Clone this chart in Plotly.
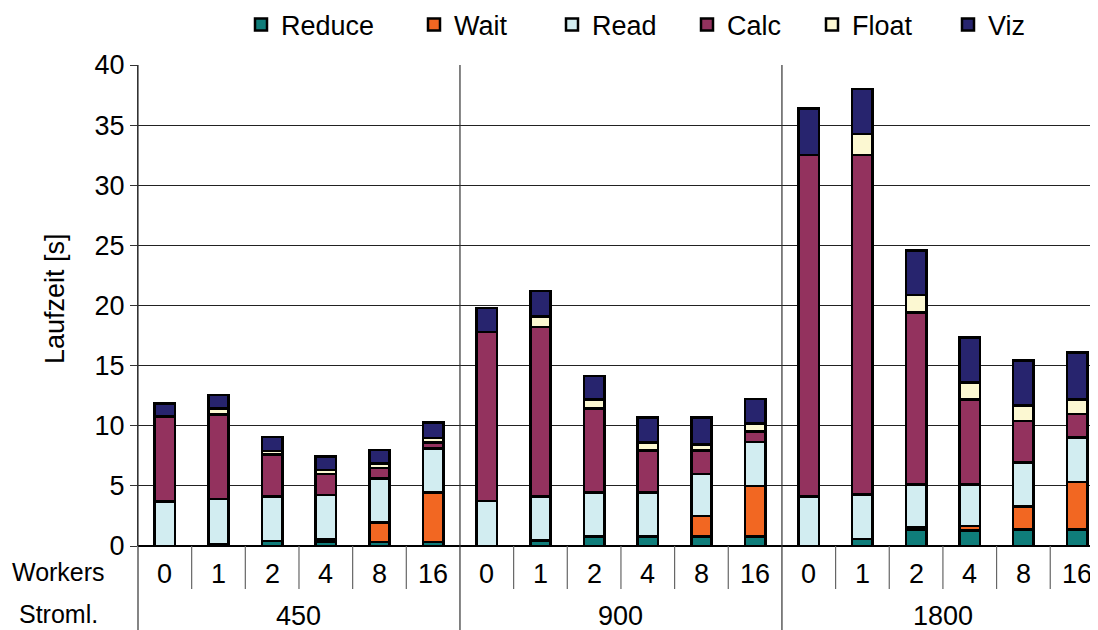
import plotly.graph_objects as go

# ---- data ----
streamlines = ["450", "900", "1800"]
workers = ["0", "1", "2", "4", "8", "16"]

reduce_vals = [0, 0.15, 0.4, 0.35, 0.35, 0.35,
               0, 0.45, 0.77, 0.77, 0.77, 0.77,
               0, 0.58, 1.33, 1.27, 1.39, 1.39]
wait_vals = [0, 0, 0, 0.2, 1.6, 4.1,
             0, 0, 0, 0, 1.73, 4.23,
             0, 0, 0.19, 0.39, 1.88, 3.93]
read_vals = [3.7, 3.75, 3.7, 3.7, 3.65, 3.65,
             3.75, 3.65, 3.68, 3.68, 3.5, 3.65,
             4.1, 3.72, 3.61, 3.47, 3.66, 3.72]
calc_vals = [7.05, 7.05, 3.5, 1.75, 0.9, 0.5,
             14.05, 14.1, 7.0, 3.48, 1.93, 0.88,
             28.4, 28.2, 14.3, 7.07, 3.47, 1.94]
float_vals = [0, 0.5, 0.3, 0.3, 0.35, 0.4,
              0, 0.87, 0.75, 0.69, 0.52, 0.67,
              0, 1.76, 1.44, 1.4, 1.3, 1.22]
viz_vals = [1.1, 1.1, 1.15, 1.15, 1.15, 1.25,
            2.0, 2.13, 1.95, 2.05, 2.22, 2.02,
            3.87, 3.74, 3.71, 3.75, 3.71, 3.88]

series_names = ["Reduce", "Wait", "Read", "Calc", "Float", "Viz"]
series_values = [reduce_vals, wait_vals, read_vals, calc_vals, float_vals, viz_vals]
series_colors = ["#0f7d7a", "#f26722", "#d2edf1", "#93325e", "#fcf8d2", "#27246e"]

y_ticks = [0, 5, 10, 15, 20, 25, 30, 35, 40]

# ---- layout helpers (page body has an 8px margin) ----
W, H = 1098, 630
OFF = 8
PL, PT, PB, PR = 138, 65, 546, 1098     # plot area in page pixels
PW, PH = PR - PL, PB - PT
FONT = "Liberation Sans, Arial, sans-serif"
FS = 27
legend_text_x = [282, 455, 593, 728, 853, 989]   # page pixel where each legend text starts
LEG_OFFSET = 41


def px_x(p):
    return (p - PL) / PW


def px_y(p):
    return (PB - p) / PH


n_per = len(workers)
n = len(streamlines) * n_per
xs = list(range(n))

fig = go.Figure()
legend_layouts = {}
for k, (name, vals, col) in enumerate(zip(series_names, series_values, series_colors)):
    lname = "legend" if k == 0 else f"legend{k + 1}"
    fig.add_trace(go.Bar(
        x=xs, y=vals, name=name, width=0.38, legend=lname,
        marker=dict(color=col, line=dict(color="black", width=2.5)),
    ))
    legend_layouts[lname] = dict(
        xref="container", yref="container",
        x=(legend_text_x[k] - LEG_OFFSET - OFF) / W, xanchor="left",
        y=1 - (25 - OFF) / H, yanchor="middle",
        orientation="h", bgcolor="rgba(0,0,0,0)", borderwidth=0,
        font=dict(size=FS, family=FONT, color="black"),
        itemclick=False, itemdoubleclick=False,
    )

shapes = []
annotations = []
y_bot = px_y(640)
y_tick_bot = px_y(589)
shapes.append(dict(type="line", xref="paper", yref="paper", x0=0, x1=0,
                   y0=y_bot, y1=1, line=dict(color="#333333", width=1.2)))
for i in range(n - 1):
    b = i + 0.5
    if (i + 1) % n_per == 0:
        shapes.append(dict(type="line", xref="x", yref="paper", x0=b, x1=b,
                           y0=y_bot, y1=1, line=dict(color="#333333", width=1.2)))
    else:
        shapes.append(dict(type="line", xref="x", yref="paper", x0=b, x1=b,
                           y0=y_tick_bot, y1=0, line=dict(color="#666666", width=1.2)))

for i in range(n):
    annotations.append(dict(x=i, y=px_y(574), xref="x", yref="paper",
                            text=workers[i % n_per], showarrow=False,
                            font=dict(size=FS, color="black", family=FONT),
                            xanchor="center", yanchor="middle"))
for g, s in enumerate(streamlines):
    annotations.append(dict(x=g * n_per + (n_per - 1) / 2, y=px_y(616), xref="x", yref="paper",
                            text=s, showarrow=False,
                            font=dict(size=FS, color="black", family=FONT),
                            xanchor="center", yanchor="middle"))
annotations.append(dict(x=px_x(58), y=px_y(572), xref="paper", yref="paper", text="Workers",
                        showarrow=False, font=dict(size=25, color="black", family=FONT),
                        xanchor="center", yanchor="middle"))
annotations.append(dict(x=px_x(58), y=px_y(614), xref="paper", yref="paper", text="Stroml.",
                        showarrow=False, font=dict(size=25, color="black", family=FONT),
                        xanchor="center", yanchor="middle"))
annotations.append(dict(x=px_x(55), y=px_y(299), xref="paper", yref="paper",
                        text="Laufzeit [s]", textangle=-90, showarrow=False,
                        font=dict(size=FS, color="black", family=FONT),
                        xanchor="center", yanchor="middle"))

fig.update_layout(
    width=W, height=H,
    margin=dict(l=PL - OFF, r=W - (PR - OFF), t=PT - OFF, b=H - (PB - OFF), autoexpand=False),
    paper_bgcolor="white", plot_bgcolor="white",
    barmode="stack",
    font=dict(family=FONT, size=FS, color="black"),
    shapes=shapes, annotations=annotations,
    showlegend=True,
    **legend_layouts,
)
fig.update_xaxes(range=[-0.5, 17.39], showticklabels=False, showgrid=False,
                 zeroline=False, showline=False, ticks="")
fig.update_yaxes(range=[0, 40], tickvals=y_ticks, ticktext=[str(v) for v in y_ticks],
                 showgrid=True, gridcolor="#222222", gridwidth=1,
                 zeroline=True, zerolinecolor="black", zerolinewidth=1.5,
                 showline=True, linecolor="#333333", linewidth=1.2,
                 ticks="outside", ticklen=7, tickcolor="#333333",
                 tickfont=dict(size=FS, family=FONT))

fig.write_html("out.html")
